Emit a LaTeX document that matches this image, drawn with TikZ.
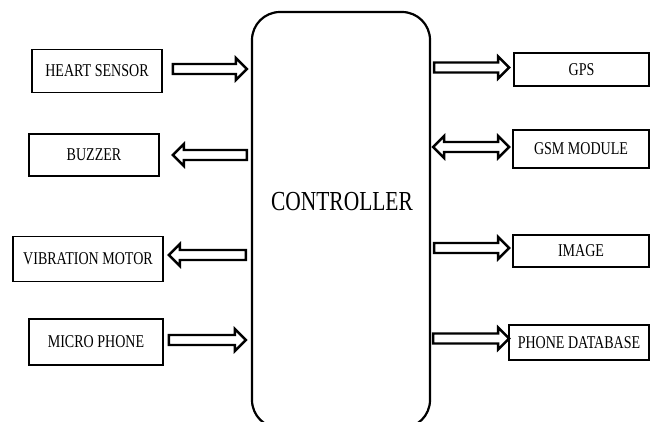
\documentclass[tikz,border=0pt]{standalone}
\usepackage{fontspec}
\setmainfont[FakeStretch=0.78]{Liberation Serif}
\usetikzlibrary{calc}
\tikzset{
  blk/.style={draw, line width=1.7pt, inner sep=0pt, font=\fontsize{18}{20}\selectfont},
  ctrlbox/.style={draw, line width=2.2pt, rounded corners=28pt, minimum width=178pt, minimum height=416pt, inner sep=0pt},
  arr/.style={draw, line width=2.4pt, line join=miter, fill=white},
}
\newcommand\barrow[2]{%
  \draw[arr] let \p1=(#1), \p2=(#2), \n1={ifthenelse(\x2>\x1,1,-1)} in
   (\x1,\y1-5pt) -- (\x2-\n1*11pt,\y1-5pt) -- (\x2-\n1*11pt,\y1-11pt) -- (\x2,\y1)
   -- (\x2-\n1*11pt,\y1+11pt) -- (\x2-\n1*11pt,\y1+5pt) -- (\x1,\y1+5pt) -- cycle;}
\newcommand\bdarrow[2]{%
  \draw[arr] let \p1=(#1), \p2=(#2) in
   (\x1,\y1) -- (\x1+11pt,\y1-11pt) -- (\x1+11pt,\y1-5pt) -- (\x2-11pt,\y1-5pt) -- (\x2-11pt,\y1-11pt) -- (\x2,\y1)
   -- (\x2-11pt,\y1+11pt) -- (\x2-11pt,\y1+5pt) -- (\x1+11pt,\y1+5pt) -- (\x1+11pt,\y1+11pt) -- cycle;}
\begin{document}
\begin{tikzpicture}[x=1pt,y=1pt]
\useasboundingbox[fill=white] (0,0) rectangle (655,-421);
\clip (0,0) rectangle (655,-421);
% controller
\node[ctrlbox] (ctrl) at (341,-220) {};
\node[font=\fontsize{27.5}{30}\selectfont] (ctrltext) at (342,-202) {CONTROLLER};
% left boxes
\node[blk, minimum width=130pt, minimum height=43pt] (hs) at (97,-71) {HEART SENSOR};
\node[blk, minimum width=130pt, minimum height=42pt] (bz) at (94,-155) {BUZZER};
\node[blk, minimum width=150pt, minimum height=45pt] (vm) at (88,-259) {VIBRATION MOTOR};
\node[blk, minimum width=134pt, minimum height=46pt] (mp) at (96,-342) {MICRO PHONE};
% right boxes
\node[blk, minimum width=135pt, minimum height=33pt] (gps) at (581.5,-69.5) {GPS};
\node[blk, minimum width=136pt, minimum height=38pt] (gsm) at (581,-149) {GSM MODULE};
\node[blk, minimum width=136pt, minimum height=32pt] (img) at (581,-251) {IMAGE};
\node[blk, minimum width=140pt, minimum height=35pt] (pd) at (579,-342.5) {PHONE DATABASE};
% arrows left
\barrow{$(hs.east)+(10pt,2pt)$}{$(hs.east -| ctrl.west)+(-4pt,2pt)$}
\barrow{$(bz.east -| ctrl.west)+(-4pt,0)$}{$(bz.east)+(13pt,0)$}
\barrow{$(vm.east -| ctrl.west)+(-5pt,4pt)$}{$(vm.east)+(5pt,4pt)$}
\barrow{$(mp.east)+(5pt,2pt)$}{$(mp.east -| ctrl.west)+(-5pt,2pt)$}
% arrows right
\barrow{$(gps.west -| ctrl.east)+(3pt,2pt)$}{$(gps.west)+(-4pt,2pt)$}
\bdarrow{$(gsm.west -| ctrl.east)+(2pt,2pt)$}{$(gsm.west)+(-3pt,2pt)$}
\barrow{$(img.west -| ctrl.east)+(3pt,3pt)$}{$(img.west)+(-3pt,3pt)$}
\barrow{$(pd.west -| ctrl.east)+(2pt,4pt)$}{$(pd.west)+(1pt,4pt)$}
\end{tikzpicture}
\end{document}
